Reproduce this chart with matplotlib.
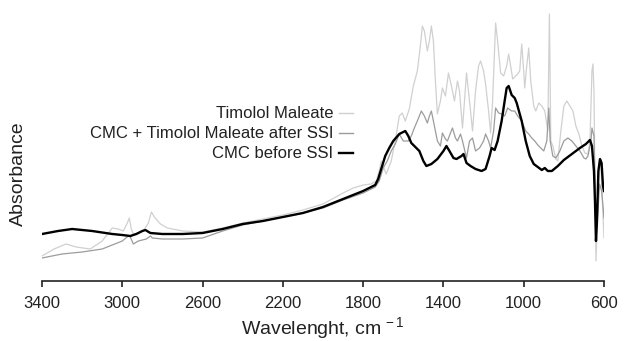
import matplotlib
matplotlib.use("Agg")
import matplotlib.pyplot as plt
from matplotlib.lines import Line2D
import numpy as np

plt.rcParams['font.family'] = ['Liberation Sans', 'DejaVu Sans']
plt.rcParams['mathtext.fontset'] = 'custom'
plt.rcParams['mathtext.rm'] = 'Liberation Sans'
plt.rcParams['mathtext.it'] = 'Liberation Sans'

# ---- data (arbitrary absorbance units) ----
cmc_wn = [3400, 3320, 3250, 3150, 3050, 3000, 2960, 2930, 2900, 2885, 2860, 2800, 2700, 2600, 2500,
          2400, 2300, 2200, 2100, 2000, 1900, 1800, 1740, 1725, 1710, 1690, 1670, 1650, 1620, 1590,
          1575, 1560, 1540, 1520, 1500, 1485, 1460, 1430, 1400, 1385, 1370, 1350, 1335, 1310, 1300,
          1285, 1265, 1240, 1210, 1190, 1170, 1160, 1145, 1130, 1110, 1095, 1085, 1075, 1060, 1045,
          1035, 1010, 990, 970, 950, 930, 910, 895, 880, 860, 830, 800, 760, 720, 690, 670, 660,
          650, 645, 640, 635, 628, 620, 612, 605, 600]
cmc_abs = [47, 50, 52, 50, 47, 46, 45, 47, 50, 51, 48, 47, 47, 48, 52,
           57, 60, 64, 68, 74, 82, 90, 96, 102, 112, 125, 133, 140, 147, 150,
           145, 138, 134, 130, 120, 115, 117, 122, 130, 135, 130, 123, 122, 125, 127,
           118, 115, 112, 110, 112, 125, 133, 131, 140, 160, 180, 193, 195, 186, 183,
           178, 160, 140, 125, 117, 114, 111, 113, 110, 110, 115, 121, 127, 133, 137, 141, 135,
           110, 80, 40, 60, 110, 122, 118, 95, 90]

tm_wn = [3400, 3340, 3280, 3230, 3160, 3100, 3050, 3020, 2995, 2975, 2965, 2955, 2945, 2920, 2895,
         2870, 2855, 2840, 2810, 2775, 2700, 2600, 2500, 2400, 2300, 2200, 2100, 2000, 1900, 1850,
         1800, 1760, 1735, 1720, 1710, 1695, 1685, 1660, 1640, 1620, 1605, 1590, 1570, 1550, 1530,
         1515, 1505, 1495, 1480, 1470, 1460, 1450, 1440, 1430, 1415, 1405, 1390, 1375, 1360, 1345,
         1330, 1320, 1305, 1295, 1285, 1270, 1255, 1240, 1225, 1215, 1200, 1190, 1175, 1165, 1155,
         1140, 1130, 1115, 1100, 1085, 1075, 1065, 1055, 1040, 1030, 1020, 1010, 1000, 995, 985,
         975, 965, 950, 940, 925, 910, 895, 880, 872, 865, 855, 840, 830, 815, 800,
         785, 770, 755, 740, 725, 710, 695, 680, 670, 660, 655, 650, 645, 640, 635,
         630, 622, 615, 608, 600]
tm_abs = [25, 32, 37, 34, 32, 40, 53, 52, 50, 58, 63, 52, 47, 48, 50,
          58, 69, 64, 57, 53, 50, 49, 53, 58, 62, 66, 71, 77, 88, 93,
          96, 97, 100, 110, 120, 112, 107, 120, 140, 165, 168, 160, 172, 195, 210,
          235, 255, 250, 230, 240, 255, 240, 200, 167, 180, 193, 185, 208, 195, 180,
          200, 190, 153, 180, 208, 180, 150, 190, 215, 220, 210, 197, 170, 148, 180,
          258, 240, 208, 205, 215, 227, 215, 202, 205, 207, 210, 237, 210, 193, 215,
          233, 200, 175, 170, 178, 175, 170, 150, 267, 140, 135, 122, 120, 150, 175,
          180, 175, 170, 155, 147, 135, 128, 127, 140, 210, 217, 190, 100, 20, 50,
          80, 120, 115, 80, 43]

mix_wn = [3400, 3300, 3200, 3100, 3050, 3000, 2970, 2960, 2945, 2920, 2880, 2860, 2850, 2800, 2700,
          2600, 2500, 2400, 2300, 2200, 2100, 2000, 1900, 1800, 1740, 1720, 1700, 1680, 1660, 1640,
          1620, 1600, 1575, 1560, 1545, 1530, 1510, 1495, 1480, 1470, 1460, 1445, 1430, 1415, 1405,
          1390, 1380, 1365, 1355, 1340, 1330, 1315, 1305, 1285, 1270, 1255, 1240, 1220, 1200, 1190,
          1175, 1165, 1150, 1140, 1125, 1110, 1095, 1080, 1060, 1045, 1030, 1010, 990, 975, 960,
          945, 930, 915, 900, 885, 875, 868, 855, 840, 820, 800, 780, 760, 740, 720,
          700, 690, 680, 665, 660, 650, 645, 638, 630, 622, 612, 605, 600]
mix_abs = [23, 27, 29, 32, 36, 40, 45, 44, 37, 40, 42, 45, 43, 42, 42,
           43, 50, 56, 60, 64, 68, 73, 81, 88, 94, 100, 113, 120, 130, 137,
           147, 140, 140, 145, 153, 160, 170, 165, 158, 165, 170, 155, 140, 135, 148,
           142, 140, 148, 153, 143, 140, 147, 140, 123, 140, 143, 130, 133, 140, 147,
           140, 133, 150, 173, 168, 167, 165, 173, 170, 170, 165, 160, 150, 147, 143,
           140, 136, 133, 130, 140, 173, 140, 125, 123, 130, 140, 143, 140, 135, 130,
           123, 122, 125, 140, 153, 145, 100, 50, 70, 97, 90, 75, 63]

labels = ["Timolol Maleate", "CMC + Timolol Maleate after SSI", "CMC before SSI"]
xticks = [3400, 3000, 2600, 2200, 1800, 1400, 1000, 600]

W, H = 624, 341
fig = plt.figure(figsize=(W / 100, H / 100), dpi=100)
ax = fig.add_axes([42 / W, (H - 281) / H, (604 - 42) / W, 281 / H])

ax.plot(tm_wn, tm_abs, color='#d0d0d0', lw=0.9, zorder=1)
ax.plot(mix_wn, mix_abs, color='#9c9c9c', lw=0.9, zorder=2)
ax.plot(cmc_wn, cmc_abs, color='#000000', lw=1.7, zorder=3)

ax.set_xlim(3400, 600)
ax.set_ylim(0, 281)
for s in ['top', 'right', 'left']:
    ax.spines[s].set_visible(False)
ax.spines['bottom'].set_linewidth(1.2)
ax.spines['bottom'].set_color('#222222')
ax.set_yticks([])
ax.set_xticks(xticks)
ax.set_xticklabels([str(t) for t in xticks], fontsize=12, color='#222222')
ax.tick_params(axis='x', direction='out', length=4, width=1.2, color='#222222', pad=7)
ax.set_xlabel(r"Wavelenght, cm$^{\,-1}$", fontsize=14, color='#222222', labelpad=3)
ax.set_ylabel("Absorbance", fontsize=14, color='#222222')
ax.yaxis.set_label_coords(-0.027, (281 - 174) / 281)

# legend-like labels with line samples (right-aligned texts)
leg_colors = ['#d0d0d0', '#9c9c9c', '#000000']
leg_lw = [1.0, 1.0, 1.7]
row_y = [113, 133, 153]
for lab, c, lw, yy in zip(labels, leg_colors, leg_lw, row_y):
    fig.text(333 / W, (H - yy) / H, lab, ha='right', va='center', fontsize=12, color='#222222')
    fig.add_artist(Line2D([339 / W, 353 / W], [(H - yy) / H] * 2, color=c, lw=lw,
                          transform=fig.transFigure))

fig.savefig("out.png", dpi=100)
